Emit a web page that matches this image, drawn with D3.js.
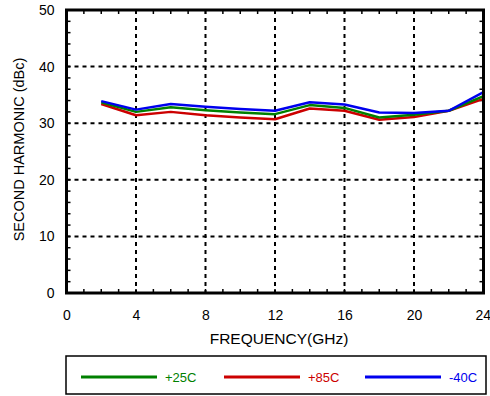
<!DOCTYPE html>
<html><head><meta charset="utf-8">
<script src="https://cdn.jsdelivr.net/npm/d3@7"></script>
<style>body{margin:0;background:#fff;} svg{display:block;font-family:"Liberation Sans",Arial,Helvetica,sans-serif;}</style>
</head><body>
<svg id="c" width="490" height="396"></svg>
<script>
const freq = [2,4,6,8,10,12,14,16,18,20,22,24];
const t25 = [33.7,32.0,32.8,32.3,31.9,31.6,33.2,32.7,31.0,31.5,32.2,34.8];
const t85 = [33.4,31.4,32.0,31.4,31.0,30.7,32.6,32.2,30.6,31.1,32.2,34.3];
const tm40 = [33.9,32.4,33.4,32.9,32.5,32.2,33.7,33.3,31.9,31.8,32.2,35.5];
const xTicks = [0,4,8,12,16,20,24];
const yTicks = [0,10,20,30,40,50];
const series = [
  {name:"+25C", values:t25, color:"#008000"},
  {name:"+85C", values:t85, color:"#cc0000"},
  {name:"-40C", values:tm40, color:"#0000ee"}
];
const drawOrder = [series[1], series[0], series[2]];

const svg = d3.select("#c");
const L=66.5, R=483.5, T=10, B=293;
const x = d3.scaleLinear().domain([0,24]).range([L,R]);
const y = d3.scaleLinear().domain([0,50]).range([B,T]);

// grid
const g = svg.append("g");
g.selectAll(".vg").data(xTicks.slice(1,-1)).join("line")
  .attr("x1",d=>x(d)).attr("x2",d=>x(d)).attr("y1",T).attr("y2",B)
  .attr("stroke","#000").attr("stroke-width",2).attr("stroke-dasharray","4,4");
g.selectAll(".hg").data(yTicks.slice(1,-1)).join("line")
  .attr("x1",L).attr("x2",R).attr("y1",d=>y(d)).attr("y2",d=>y(d))
  .attr("stroke","#000").attr("stroke-width",2).attr("stroke-dasharray","4,4");

// minor ticks (inside, all sides)
const xMinor = d3.range(1,24);
const yMinor = d3.range(2,50,2);
const tk = svg.append("g").attr("stroke","#000").attr("stroke-width",1.5);
xMinor.forEach(v=>{
  tk.append("line").attr("x1",x(v)).attr("x2",x(v)).attr("y1",B).attr("y2",B-4);
  tk.append("line").attr("x1",x(v)).attr("x2",x(v)).attr("y1",T).attr("y2",T+4);
});
yMinor.forEach(v=>{
  tk.append("line").attr("x1",L).attr("x2",L+4).attr("y1",y(v)).attr("y2",y(v));
  tk.append("line").attr("x1",R).attr("x2",R-4).attr("y1",y(v)).attr("y2",y(v));
});

// axes labels via d3 axes
const xAxis = svg.append("g").attr("transform",`translate(0,${B})`)
  .call(d3.axisBottom(x).tickValues(xTicks).tickSize(0).tickPadding(17));
xAxis.select(".domain").remove();
xAxis.selectAll("text").attr("font-size",14).attr("fill","#000").attr("font-family","Liberation Sans,Arial,sans-serif");
xAxis.selectAll(".tick").filter(d=>d===24).select("text").attr("text-anchor","end").attr("dx",7);
const yAxis = svg.append("g").attr("transform",`translate(${L},0)`)
  .call(d3.axisLeft(y).tickValues(yTicks).tickSize(0).tickPadding(12));
yAxis.select(".domain").remove();
yAxis.selectAll("text").attr("font-size",14).attr("fill","#000").attr("font-family","Liberation Sans,Arial,sans-serif");

// lines
const line = d3.line().x((d,i)=>x(freq[i])).y(d=>y(d));
svg.selectAll(".s").data(drawOrder).join("path")
  .attr("d",d=>line(d.values)).attr("fill","none")
  .attr("stroke",d=>d.color).attr("stroke-width",2.5).attr("stroke-linejoin","round");

// frame
svg.append("rect").attr("x",L).attr("y",T).attr("width",R-L).attr("height",B-T)
  .attr("fill","none").attr("stroke","#000").attr("stroke-width",3);

// titles
svg.append("text").attr("x",(L+R)/2+4).attr("y",344).attr("text-anchor","middle")
  .attr("font-size",15.5).text("FREQUENCY(GHz)");
svg.append("text").attr("transform",`translate(24,${(T+B)/2 - 2}) rotate(-90)`)
  .attr("text-anchor","middle").attr("font-size",14.5).text("SECOND HARMONIC (dBc)");

// legend
svg.append("rect").attr("x",66).attr("y",356).attr("width",420).attr("height",38)
  .attr("fill","none").attr("stroke","#000").attr("stroke-width",1.5);
const lx = [81,224,365];
series.forEach((s,i)=>{
  svg.append("line").attr("x1",lx[i]).attr("x2",lx[i]+76).attr("y1",377).attr("y2",377)
    .attr("stroke",s.color).attr("stroke-width",3);
  svg.append("text").attr("x",lx[i]+84).attr("y",382).attr("font-size",13)
    .attr("fill",s.color).text(s.name);
});
</script>
</body></html>
